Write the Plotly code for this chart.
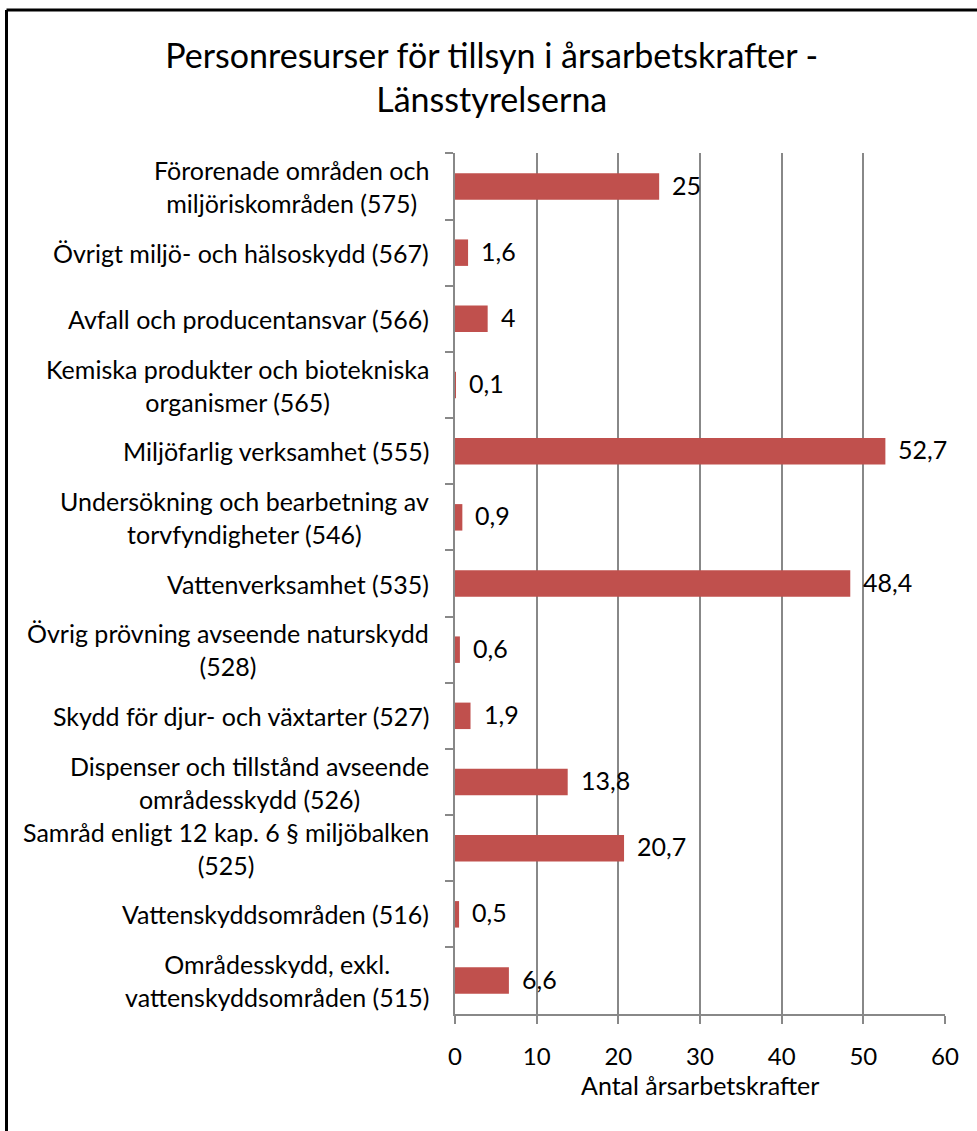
import plotly.graph_objects as go

categories = [
    "Förorenade områden och<br>miljöriskområden (575)",
    "Övrigt miljö- och hälsoskydd (567)",
    "Avfall och producentansvar (566)",
    "Kemiska produkter och biotekniska<br>organismer (565)",
    "Miljöfarlig verksamhet (555)",
    "Undersökning och bearbetning av<br>torvfyndigheter (546)",
    "Vattenverksamhet (535)",
    "Övrig prövning avseende naturskydd<br>(528)",
    "Skydd för djur- och växtarter (527)",
    "Dispenser och tillstånd avseende<br>områdesskydd (526)",
    "Samråd enligt 12 kap. 6 § miljöbalken<br>(525)",
    "Vattenskyddsområden (516)",
    "Områdesskydd, exkl.<br>vattenskyddsområden (515)",
]
values = [25, 1.6, 4, 0.1, 52.7, 0.9, 48.4, 0.6, 1.9, 13.8, 20.7, 0.5, 6.6]
value_labels = ["25", "1,6", "4", "0,1", "52,7", "0,9", "48,4", "0,6", "1,9", "13,8", "20,7", "0,5", "6,6"]
x_ticks = [0, 10, 20, 30, 40, 50, 60]

W, H = 977, 1131
EXTRA = 12  # figure extends a little past the window's right and bottom edges
ML, MR, MT, MB = 455, 32 + EXTRA, 153, 117 + EXTRA
FW, FH = W + EXTRA, H + EXTRA
FONT = "Lato"
FS = 25
BAR = "#C0504D"
GRID = "#888888"

pw = FW - ML - MR
ph = FH - MT - MB

fig = go.Figure()
fig.add_trace(go.Bar(
    y=categories, x=values, orientation="h",
    marker=dict(color=BAR, line=dict(width=0)),
    width=0.4, hoverinfo="skip",
))

annotations = []
for c, v, t in zip(categories, values, value_labels):
    annotations.append(dict(x=v, y=c, xref="x", yref="y", text=t, showarrow=False,
                            xanchor="left", xshift=11, yshift=2,
                            font=dict(family=FONT, size=FS, color="black")))
for c in categories:
    annotations.append(dict(x=0, y=c, xref="paper", yref="y", text=c, showarrow=False,
                            xanchor="right", xshift=-24, align="center",
                            font=dict(family=FONT, size=FS, color="black")))
annotations.append(dict(x=0.5, y=(H - 117 - 1085) / ph, xref="paper", yref="paper",
                        text="Antal årsarbetskrafter",
                        showarrow=False, xanchor="center", yanchor="middle",
                        font=dict(family=FONT, size=FS, color="black")))

# outer chart border (top and left edges visible; right/bottom fall outside the picture)
bx0 = (6.5 - ML) / pw
bx1 = (FW + 40 - ML) / pw
by1 = (H - 117 - 10) / ph
by0 = (H - 117 - (FH + 40)) / ph
fig.add_shape(type="line", xref="paper", yref="paper", x0=bx0, x1=bx1, y0=by1, y1=by1,
              line=dict(color="black", width=3), layer="above")
fig.add_shape(type="line", xref="paper", yref="paper", x0=bx0, x1=bx0, y0=by0, y1=by1,
              line=dict(color="black", width=3), layer="above")

fig.update_layout(
    width=FW, height=FH,
    margin=dict(l=ML, r=MR, t=MT, b=MB),
    paper_bgcolor="white", plot_bgcolor="white",
    showlegend=False,
    font=dict(family=FONT, size=FS, color="black"),
    title=dict(text="Personresurser för tillsyn i årsarbetskrafter -<br>Länsstyrelserna",
               x=(6.5 + W) / 2 / FW, xref="container", xanchor="center", y=1 - 68 / FH, yanchor="middle",
               font=dict(family=FONT, size=34, color="black")),
    annotations=annotations,
    bargap=0.6,
)
fig.update_xaxes(range=[0, 60], tickvals=x_ticks, ticktext=[str(v) for v in x_ticks],
                 showgrid=True, gridcolor=GRID, gridwidth=2,
                 showline=True, linecolor=GRID, linewidth=2,
                 ticks="outside", ticklen=8, tickcolor=GRID, tickwidth=2,
                 ticklabelstandoff=12,
                 tickfont=dict(family=FONT, size=24, color="black"),
                 zeroline=False, fixedrange=True)
fig.update_yaxes(type="category", autorange="reversed", showticklabels=False,
                 showline=True, linecolor=GRID, linewidth=2,
                 ticks="outside", ticklen=8, tickcolor=GRID, tickwidth=2,
                 tickson="boundaries", showgrid=False, zeroline=False, fixedrange=True)

fig.write_html("out.html", config={"displayModeBar": False},
               post_script="document.documentElement.style.overflow='hidden';document.body.style.margin='0';document.body.style.overflow='hidden';")
